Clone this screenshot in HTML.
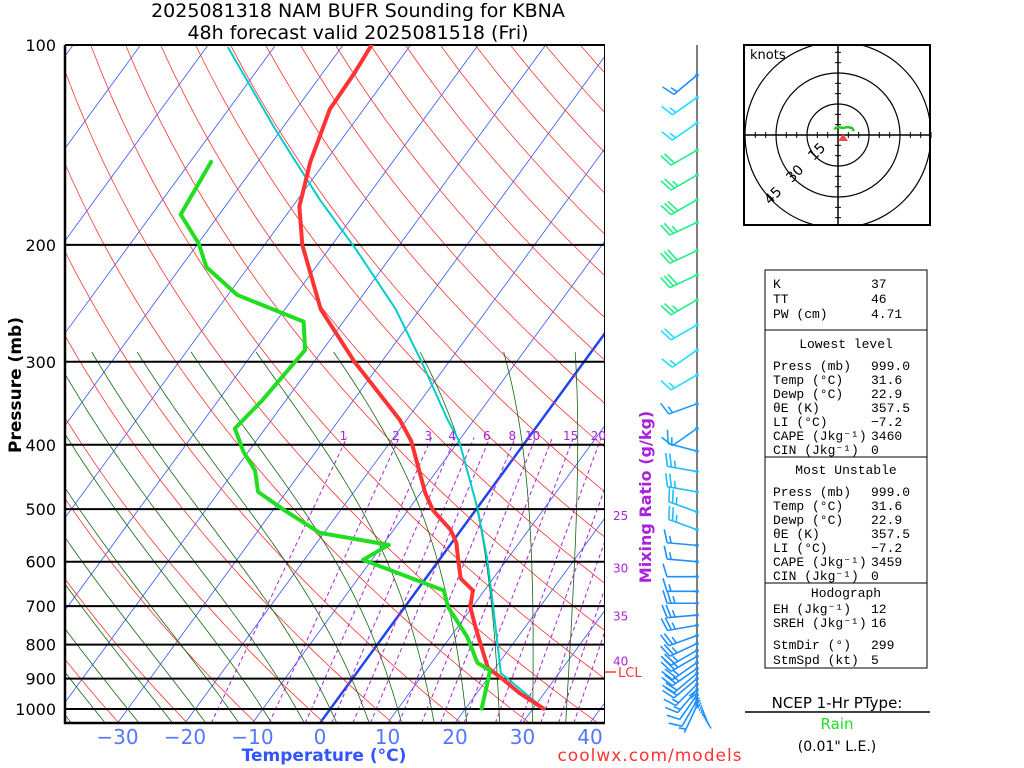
<!DOCTYPE html>
<html><head><meta charset="utf-8">
<style>
html,body{margin:0;padding:0;background:#fff;}
svg{display:block;font-family:"DejaVu Sans","Liberation Sans",sans-serif;}
</style></head>
<body>
<svg id="chart" width="1024" height="768" viewBox="0 0 1024 768" xmlns="http://www.w3.org/2000/svg">
<defs><clipPath id="plotclip"><rect x="65" y="45" width="540" height="678"/></clipPath></defs>
<rect width="1024" height="768" fill="#fff"/>
<text x="358" y="17" font-size="19" text-anchor="middle" fill="#000">2025081318 NAM BUFR Sounding for KBNA</text>
<text x="358" y="39" font-size="19" text-anchor="middle" fill="#000">48h forecast valid 2025081518 (Fri)</text>
<g id="bg" clip-path="url(#plotclip)"></g>
<g id="isobars"></g>
<g id="profiles" clip-path="url(#plotclip)"></g>
<g id="labels"></g>
<g id="barbs"></g>
<text transform="translate(21,385) rotate(-90)" font-size="17" font-weight="bold" text-anchor="middle">Pressure (mb)</text>
<text x="324" y="761" font-size="17" font-weight="bold" fill="#3355ff" text-anchor="middle">Temperature (°C)</text>
<text x="650" y="761" font-size="17" fill="#ff3333" text-anchor="middle" letter-spacing="1">coolwx.com/models</text>
<text transform="translate(651,497) rotate(-90)" font-size="16" font-weight="bold" fill="#aa22dd" text-anchor="middle">Mixing Ratio (g/kg)</text>
<text x="618" y="677" font-size="13" fill="#ff3333">LCL</text>
<line x1="605" y1="672" x2="616" y2="672" stroke="#ff3333" stroke-width="1.5"/>
<g id="hodo">
<rect x="744" y="45" width="186" height="180" fill="none" stroke="#000" stroke-width="2"/>
<text x="750" y="59" font-size="13">knots</text>
</g>
<g id="panel" font-size="13" font-family="Liberation Mono, DejaVu Sans Mono, monospace">
<rect x="765" y="270" width="162" height="398" fill="none" stroke="#000" stroke-width="1"/>
<line x1="765" y1="330" x2="927" y2="330" stroke="#000"/>
<line x1="765" y1="457" x2="927" y2="457" stroke="#000"/>
<line x1="765" y1="583" x2="927" y2="583" stroke="#000"/>
</g>
<g font-size="15">
<text x="837" y="708" text-anchor="middle">NCEP 1-Hr PType:</text>
<line x1="745" y1="712" x2="930" y2="712" stroke="#000" stroke-width="1.5"/>
<text x="837" y="729" text-anchor="middle" fill="#22dd22">Rain</text>
<text x="837" y="751" text-anchor="middle" font-size="14">(0.01" L.E.)</text>
</g>
<script>
// ---- data ----
var tempP = [999, 947, 895, 867, 814, 752, 702, 663, 636, 596, 562, 537, 502, 473, 441, 395, 367, 300, 250, 200, 175, 150, 125, 110, 100];
var tempT = [31.6, 26.4, 21.7, 18.9, 16.1, 12.6, 9.7, 8.3, 5.2, 2.8, 0.7, -1.6, -6.3, -9.3, -12.3, -17, -21, -34, -44.7, -54.4, -59, -62.2, -65, -65.3, -65.8];
var dewP = [999, 928, 875, 852, 779, 702, 663, 596, 566, 543, 502, 471, 437, 410, 378, 343, 288, 261, 238, 216, 199, 180, 150];
var dewT = [22.4, 20.8, 19.5, 16.8, 12.5, 6.4, 4.0, -11.3, -9.1, -20.6, -28.3, -34.2, -37, -40.7, -44.5, -43.5, -42.6, -45.9, -58.6, -66.2, -69.9, -75.7, -76.9];
var parcelP = [999, 883, 702, 596, 500, 395, 367, 298, 250, 203, 171, 134, 101];
var parcelT = [31.6, 21.4, 13.1, 7.1, 0.2, -9.9, -13.9, -24.4, -33.6, -46, -56.7, -70.9, -86.7];
var pressureTicks = [100, 200, 300, 400, 500, 600, 700, 800, 900, 1000];
var tempTicks = [-30, -20, -10, 0, 10, 20, 30, 40];
var mixRatios = [1, 2, 3, 4, 5, 6, 8, 10, 12, 15, 20, 25, 30, 35, 40];
var mixLabels = [1, 2, 3, 4, 6, 8, 10, 15, 20, 25, 30, 35, 40];
var windP = [111,120,131,144,157,171,185,204,222,242,264,288,314,347,378,409,439,471,505,537,567,600,632,665,693,722,748,775,797,816,833,851,869,884,900,918,935,952,970,988];
var windDir = [230,235,235,240,240,240,245,245,245,240,240,235,240,250,235,285,280,280,290,290,275,275,270,270,270,265,260,250,245,240,240,235,235,230,230,225,220,215,210,205];
var windSpd = [15,15,15,20,25,30,25,30,30,25,20,15,15,15,10,15,25,25,25,25,15,15,10,15,25,25,25,25,25,25,25,25,25,20,20,15,15,10,10,5];

var SVGNS = "http://www.w3.org/2000/svg";
function yP(p){ return 45 + 664*Math.log10(p/100); }
function xT(t,p){ return 320 + 6.75*t + 0.731*(723 - yP(p)); }
function mk(tag, attrs, parent){ var e=document.createElementNS(SVGNS,tag); for(var k in attrs) e.setAttribute(k,attrs[k]); parent.appendChild(e); return e; }
function poly(pts){ return pts.map(function(q){return q[0].toFixed(1)+","+q[1].toFixed(1);}).join(" "); }
var bg=document.getElementById("bg"), iso=document.getElementById("isobars"), prof=document.getElementById("profiles"), lab=document.getElementById("labels");

for (var t=-160; t<=50; t+=10){
  var l=mk("line",{x1:xT(t,1050),y1:yP(1050),x2:xT(t,100),y2:yP(100),stroke:t===0?"#2244ee":"#3355ff","stroke-width":t===0?2.5:0.8},bg);
  
  
}
for (var th=200; th<=520; th+=10){
  var pts=[]; for (var p=1050; p>=100; p-=10){ pts.push([xT(th*Math.pow(p/1000,0.2857)-273.15,p), yP(p)]); }
  var e=mk("polyline",{points:poly(pts),fill:"none",stroke:"#ff3333","stroke-width":0.8},bg);
  
  
}
function es(T){ return 6.112*Math.exp(17.67*T/(T+243.5)); }
function step(Tk,pp,dp){ var rs=0.622*es(Tk-273.15)/(pp-es(Tk-273.15)); var L=2.5e6, Rd=287, cp=1004;
  var dTdp=(Rd*Tk+L*rs)/(pp*(cp+L*L*rs*0.622/(Rd*Tk*Tk))); return Tk+dTdp*dp; }
for (var tw=-45; tw<=35; tw+=5){
  var T=tw+273.15, pts=[], Tb=T;
  for (var q=1000;q<1050;q+=5){ Tb=step(Tb,q,5); }
  pts.push([xT(Tb-273.15,1050),yP(1050)]);
  for (var q=1000;q>=290;q-=5){ pts.push([xT(T-273.15,q),yP(q)]); T=step(T,q,-5); }
  var e=mk("polyline",{points:poly(pts),fill:"none",stroke:"#116611","stroke-width":0.8},bg);
  
  
}
function tdFromW(w,p){ var e=w*p/(622+w); var a=Math.log(e/6.112); return 243.5*a/(17.67-a); }
mixRatios.forEach(function(w){
  var e=mk("line",{x1:xT(tdFromW(w,1050),1050)+3,y1:yP(1050),x2:xT(tdFromW(w,390),390)+6,y2:yP(390),stroke:"#aa22dd","stroke-width":1,"stroke-dasharray":"4,3"},bg);
  
  
  if (mixLabels.indexOf(w)<0) return;
  var x400=xT(tdFromW(w,400),400)+6, tx, ty, anchor="middle";
  if (x400<=605){ tx=x400; ty=440; } else {
    var lo=400,hi=1050; for(var i=0;i<40;i++){ var m=(lo+hi)/2; if(xT(tdFromW(w,m),m)+5>605) lo=m; else hi=m; } tx=613; ty=yP(lo)+36; anchor="start"; }
  var tt=mk("text",{x:tx,y:ty,"font-size":12,fill:"#aa22dd","text-anchor":anchor},lab); tt.textContent=w;
  
  
});
pressureTicks.forEach(function(p){
  var e=mk("line",{x1:65,y1:yP(p),x2:605,y2:yP(p),stroke:"#000","stroke-width":2},iso);
  
  
  var t=mk("text",{x:56,y:yP(p)+6,"font-size":16,"text-anchor":"end"},lab); t.textContent=p;
  
  
});
var ax=mk("line",{x1:65,y1:45,x2:65,y2:724,stroke:"#000","stroke-width":2.5},iso);


var rx=mk("line",{x1:604.5,y1:45,x2:604.5,y2:724,stroke:"#000","stroke-width":1},iso);


var bx=mk("line",{x1:64,y1:723,x2:605,y2:723,stroke:"#000","stroke-width":2.5},iso);


tempTicks.forEach(function(t){
  var e=mk("text",{x:320+6.75*t,y:744,"font-size":20,"text-anchor":"middle",fill:"#5577ff"},lab); e.textContent=(t<0?"\u2212"+(-t):t);
  
  
});
function line(P,T,color,w,name){
  var pts=P.map(function(p,i){return [xT(T[i],p),yP(p)];});
  var e=mk("polyline",{points:poly(pts),fill:"none",stroke:color,"stroke-width":w,"stroke-linejoin":"round","stroke-linecap":"round"},prof);
  
  
}
line(parcelP,parcelT,"#00cccc",2,"parcel-trace");
line(tempP,tempT,"#ff3333",4,"temperature-line");
line(dewP,dewT,"#22dd22",4,"dewpoint-line");

var bgp=document.getElementById("barbs");
var sl=mk("line",{x1:697,y1:45,x2:697,y2:705,stroke:"#555","stroke-width":1.5},bgp);


function barbColor(p){ if(p<118) return "#1e90ff"; if(p<140) return "#22ddff"; if(p<250) return "#22ee88"; if(p<330) return "#22ddff"; if(p<420) return "#1ea0ff"; if(p<560) return "#22bbff"; return "#1e90ff"; }
windP.forEach(function(p,i){
  var y=yP(p), x=697, d=windDir[i]*Math.PI/180, L=30, s=windSpd[i], c=barbColor(p);
  var ux=Math.sin(d), uy=-Math.cos(d), fx=-uy, fy=ux;
  var g=mk("g",{stroke:c,"stroke-width":1.6,fill:"none"},bgp);
  
  
  mk("line",{x1:x,y1:y,x2:x+ux*L,y2:y+uy*L},g);
  mk("circle",{cx:x,cy:y,r:1.8,fill:c,stroke:"none"},g);
  var pos=L, rem=s;
  while(rem>=10){ var bx0=x+ux*pos, by0=y+uy*pos; mk("line",{x1:bx0,y1:by0,x2:bx0+fx*13+ux*4,y2:by0+fy*13+uy*4},g); pos-=4; rem-=10; }
  if(rem>=5){ if(pos===L) pos-=4; var bx1=x+ux*pos, by1=y+uy*pos; mk("line",{x1:bx1,y1:by1,x2:bx1+fx*7+ux*2,y2:by1+fy*7+uy*2},g); }
});
for (var k=0;k<14;k++){
  var yy=690+k*2.5, xx=697+k*0.8;
  var e=mk("line",{x1:xx,y1:yy,x2:xx-8+k*0.9,y2:yy+6,stroke:"#1e90ff","stroke-width":1.4},bgp);
  
  
}

var hg=document.getElementById("hodo"), cx=838, cy=135, sc=31/15;
mk("clipPath",{id:"hclip"},hg).appendChild(document.createElementNS(SVGNS,"rect"));
var hc=document.getElementById("hclip").firstChild; hc.setAttribute("x",744);hc.setAttribute("y",45);hc.setAttribute("width",186);hc.setAttribute("height",180);
[15,30,45].forEach(function(r,i){
  var c=mk("circle",{cx:cx,cy:cy,r:r*sc,fill:"none",stroke:"#000","stroke-width":1.2,"clip-path":"url(#hclip)"},hg);
  
  
  var a=Math.PI*0.75, tx=cx+Math.cos(a)*r*sc+4, ty=cy+Math.sin(a)*r*sc-2;
  var t=mk("text",{x:tx,y:ty,"font-size":14,"text-anchor":"middle",transform:"rotate(-45 "+tx+" "+ty+")"},hg); t.textContent=r;
  
  
});
mk("line",{x1:744,y1:cy,x2:930,y2:cy,stroke:"#000","stroke-width":1.5},hg);
mk("line",{x1:cx,y1:45,x2:cx,y2:225,stroke:"#000","stroke-width":1.5},hg);
for (var k=-9;k<=9;k++){ if(!k) continue; var o=k*5*sc;
  mk("line",{x1:cx+o,y1:cy-3,x2:cx+o,y2:cy+3,stroke:"#000"},hg);
  if (Math.abs(o)<88) mk("line",{x1:cx-3,y1:cy+o,x2:cx+3,y2:cy+o,stroke:"#000"},hg); }
var ht=mk("polyline",{points:"834,129 838,127 843,128 848,127 852,128 854,131",fill:"none",stroke:"#22cc22","stroke-width":2.5},hg);


var tri=mk("polygon",{points:"843,134 838,141 848,141",fill:"#ff4444"},hg);



var pn=document.getElementById("panel");
var rows=[["K","37",288],["TT","46",303],["PW (cm)","4.71",318],
["Press (mb)","999.0",370],["Temp (°C)","31.6",384],["Dewp (°C)","22.9",398],["θE (K)","357.5",412],["LI (°C)","\u22127.2",426],["CAPE (Jkg\u207B\u00B9)","3460",440],["CIN (Jkg\u207B\u00B9)","0",454],
["Press (mb)","999.0",496],["Temp (°C)","31.6",510],["Dewp (°C)","22.9",524],["θE (K)","357.5",538],["LI (°C)","\u22127.2",552],["CAPE (Jkg\u207B\u00B9)","3459",566],["CIN (Jkg\u207B\u00B9)","0",580],
["EH (Jkg\u207B\u00B9)","12",613],["SREH (Jkg\u207B\u00B9)","16",627],["StmDir (°)","299",649],["StmSpd (kt)","5",664]];
rows.forEach(function(r){
  var a=mk("text",{x:773,y:r[2]},pn); a.textContent=r[0];
  
  
  var b=mk("text",{x:871,y:r[2]},pn); b.textContent=r[1];
  
  
});
[["Lowest level",348],["Most Unstable",474],["Hodograph",597]].forEach(function(h){
  var t=mk("text",{x:846,y:h[1],"text-anchor":"middle"},pn); t.textContent=h[0];
  
  
});
</script>
</svg>
</body></html>
